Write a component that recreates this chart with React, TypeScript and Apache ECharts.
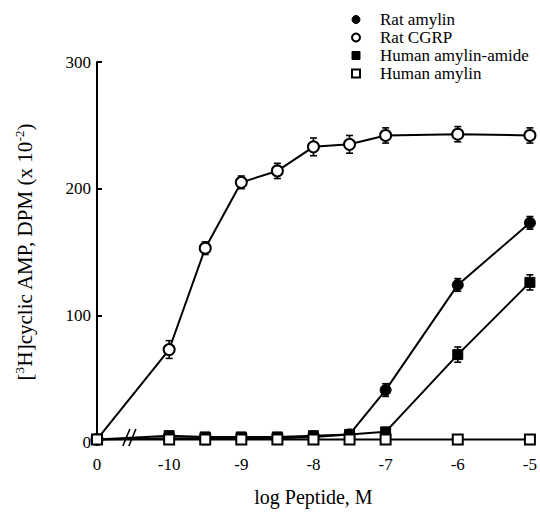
import React, { useEffect, useRef } from "react";
import * as echarts from "echarts";

// x positions: -11 stands for the "0" (no peptide) point before the axis break
const ZERO_POS = -11;
const xTickLabels: Record<string, string> = { "-11": "0", "-10": "-10", "-9": "-9", "-8": "-8", "-7": "-7", "-6": "-6", "-5": "-5" };

const ratAmylinX = [-11, -10, -9.5, -9, -8.5, -8, -7.5, -7, -6, -5];
const ratAmylinY = [2, 3, 3, 3, 3, 4, 6, 41, 124, 173];
const ratAmylinErr = [0, 0, 0, 0, 0, 0, 3, 5, 5, 5];

const ratCgrpX = [-11, -10, -9.5, -9, -8.5, -8, -7.5, -7, -6, -5];
const ratCgrpY = [2, 73, 153, 205, 214, 233, 235, 242, 243, 242];
const ratCgrpErr = [0, 7, 5, 5, 6, 7, 7, 6, 6, 6];

const amideX = [-11, -10, -9.5, -9, -8.5, -8, -7.5, -7, -6, -5];
const amideY = [2, 5, 4, 4, 4, 5, 6, 8, 69, 126];
const amideErr = [0, 2, 2, 2, 2, 2, 2, 2, 6, 6];

const humanAmylinX = [-11, -10, -9.5, -9, -8.5, -8, -7.5, -7, -6, -5];
const humanAmylinY = [2, 2, 2, 2, 2, 2, 2, 2, 2, 2];
const humanAmylinErr = [0, 0, 4, 3, 0, 0, 0, 0, 3, 0];

const seriesNames = ["Rat amylin", "Rat CGRP", "Human amylin-amide", "Human amylin"];

const FONT = "'Liberation Serif', 'Times New Roman', serif";

function pairs(xs: number[], ys: number[]) {
  return xs.map((x, i) => [x, ys[i]]);
}
function errTriples(xs: number[], ys: number[], es: number[]) {
  return xs.map((x, i) => [x, ys[i], es[i]]).filter((d) => d[2] > 0);
}

export default function App() {
  const ref = useRef<HTMLDivElement>(null);
  useEffect(() => {
    if (!ref.current) return;
    document.body.style.margin = "0";
    const chart = echarts.init(ref.current, undefined, { renderer: "svg" });

    const errSeries = (data: number[][], z: number) => ({
      type: "custom",
      silent: true,
      z,
      data,
      renderItem: (params: any, api: any) => {
        const x = api.value(0);
        const y = api.value(1);
        const e = api.value(2);
        const top = api.coord([x, y + e]);
        const bot = api.coord([x, y - e]);
        const cap = 3.5;
        const style = { stroke: "#000", lineWidth: 1.6 };
        return {
          type: "group",
          children: [
            { type: "line", shape: { x1: top[0], y1: top[1], x2: bot[0], y2: bot[1] }, style },
            { type: "line", shape: { x1: top[0] - cap, y1: top[1], x2: top[0] + cap, y2: top[1] }, style },
            { type: "line", shape: { x1: bot[0] - cap, y1: bot[1], x2: bot[0] + cap, y2: bot[1] }, style },
          ],
        };
      },
    });

    const lineBase = {
      type: "line",
      lineStyle: { color: "#000", width: 2 },
      showSymbol: true,
    };

    chart.setOption({
      animation: false,
      backgroundColor: "#fff",
      textStyle: { fontFamily: FONT },
      grid: { left: 97, right: 7, top: 62, bottom: 66 },
      legend: {
        orient: "vertical",
        left: 351,
        top: 11,
        padding: 0,
        itemWidth: 8,
        itemHeight: 8,
        itemGap: 1,
        textStyle: { fontFamily: FONT, fontSize: 17, lineHeight: 17, color: "#000", padding: [0, 0, 0, 15] },
        data: [
          { name: seriesNames[0], icon: "circle", itemStyle: { color: "#000", borderColor: "#000", borderWidth: 1 } },
          { name: seriesNames[1], icon: "circle", itemStyle: { color: "#fff", borderColor: "#000", borderWidth: 2 } },
          { name: seriesNames[2], icon: "rect", itemStyle: { color: "#000", borderColor: "#000", borderWidth: 1 } },
          { name: seriesNames[3], icon: "rect", itemStyle: { color: "#fff", borderColor: "#000", borderWidth: 2 } },
        ],
      },
      xAxis: {
        type: "value",
        min: ZERO_POS,
        max: -5,
        interval: 1,
        axisLine: { show: false },
        axisTick: { show: false },
        splitLine: { show: false },
        axisLabel: {
          color: "#000",
          fontSize: 17,
          fontFamily: FONT,
          margin: 14,
          formatter: (v: number) => xTickLabels[String(v)] ?? "",
        },
        name: "log Peptide, M",
        nameLocation: "middle",
        nameGap: 45,
        nameTextStyle: { color: "#000", fontSize: 20, fontFamily: FONT },
      },
      yAxis: {
        type: "value",
        min: 0,
        max: 300,
        interval: 100,
        axisLine: { show: true, lineStyle: { color: "#000", width: 2 } },
        axisTick: { show: true, inside: true, length: 5, lineStyle: { color: "#000", width: 2 } },
        splitLine: { show: false },
        axisLabel: { color: "#000", fontSize: 17, fontFamily: FONT, margin: 6 },
        name: "{n|[}{sup|3}{n|H]cyclic AMP, DPM (x 10}{sup|-2}{n|)}",
        nameLocation: "middle",
        nameGap: 60,
        nameTextStyle: {
          color: "#000",
          fontFamily: FONT,
          rich: {
            n: { fontSize: 21, fontFamily: FONT, color: "#000" },
            sup: { fontSize: 13, fontFamily: FONT, color: "#000", padding: [0, 0, 11, 0] },
          },
        },
      },
      series: [
        errSeries(errTriples(ratAmylinX, ratAmylinY, ratAmylinErr), 1),
        errSeries(errTriples(ratCgrpX, ratCgrpY, ratCgrpErr), 1),
        errSeries(errTriples(amideX, amideY, amideErr), 1),
        errSeries(errTriples(humanAmylinX, humanAmylinY, humanAmylinErr), 1),
        {
          ...lineBase,
          name: seriesNames[0],
          z: 3,
          data: pairs(ratAmylinX, ratAmylinY),
          symbol: "circle",
          symbolSize: 11,
          itemStyle: { color: "#000", borderColor: "#000", borderWidth: 1 },
        },
        {
          ...lineBase,
          name: seriesNames[1],
          z: 4,
          data: pairs(ratCgrpX, ratCgrpY),
          symbol: "circle",
          symbolSize: 11,
          itemStyle: { color: "#fff", borderColor: "#000", borderWidth: 2 },
        },
        {
          ...lineBase,
          name: seriesNames[2],
          z: 5,
          data: pairs(amideX, amideY),
          symbol: "rect",
          symbolSize: 10,
          itemStyle: { color: "#000", borderColor: "#000", borderWidth: 1 },
        },
        {
          ...lineBase,
          name: seriesNames[3],
          z: 6,
          data: pairs(humanAmylinX, humanAmylinY),
          symbol: "rect",
          symbolSize: 10,
          itemStyle: { color: "#fff", borderColor: "#000", borderWidth: 2 },
        },
      ],
    });

    // axis break mark "//" between 0 and -10
    const p = chart.convertToPixel({ gridIndex: 0 }, [-10.6, 0]) as number[];
    const bx = p[0];
    const by = p[1];
    const s = { stroke: "#000", lineWidth: 1.6 };
    chart.setOption({
      graphic: [
        { type: "line", z: 10, shape: { x1: bx - 3, y1: by + 4, x2: bx + 4, y2: by - 13 }, style: s },
        { type: "line", z: 10, shape: { x1: bx + 3, y1: by + 4, x2: bx + 10, y2: by - 13 }, style: s },
      ],
    });

    return () => chart.dispose();
  }, []);
  return <div ref={ref} style={{ width: 540, height: 512 }} />;
}
